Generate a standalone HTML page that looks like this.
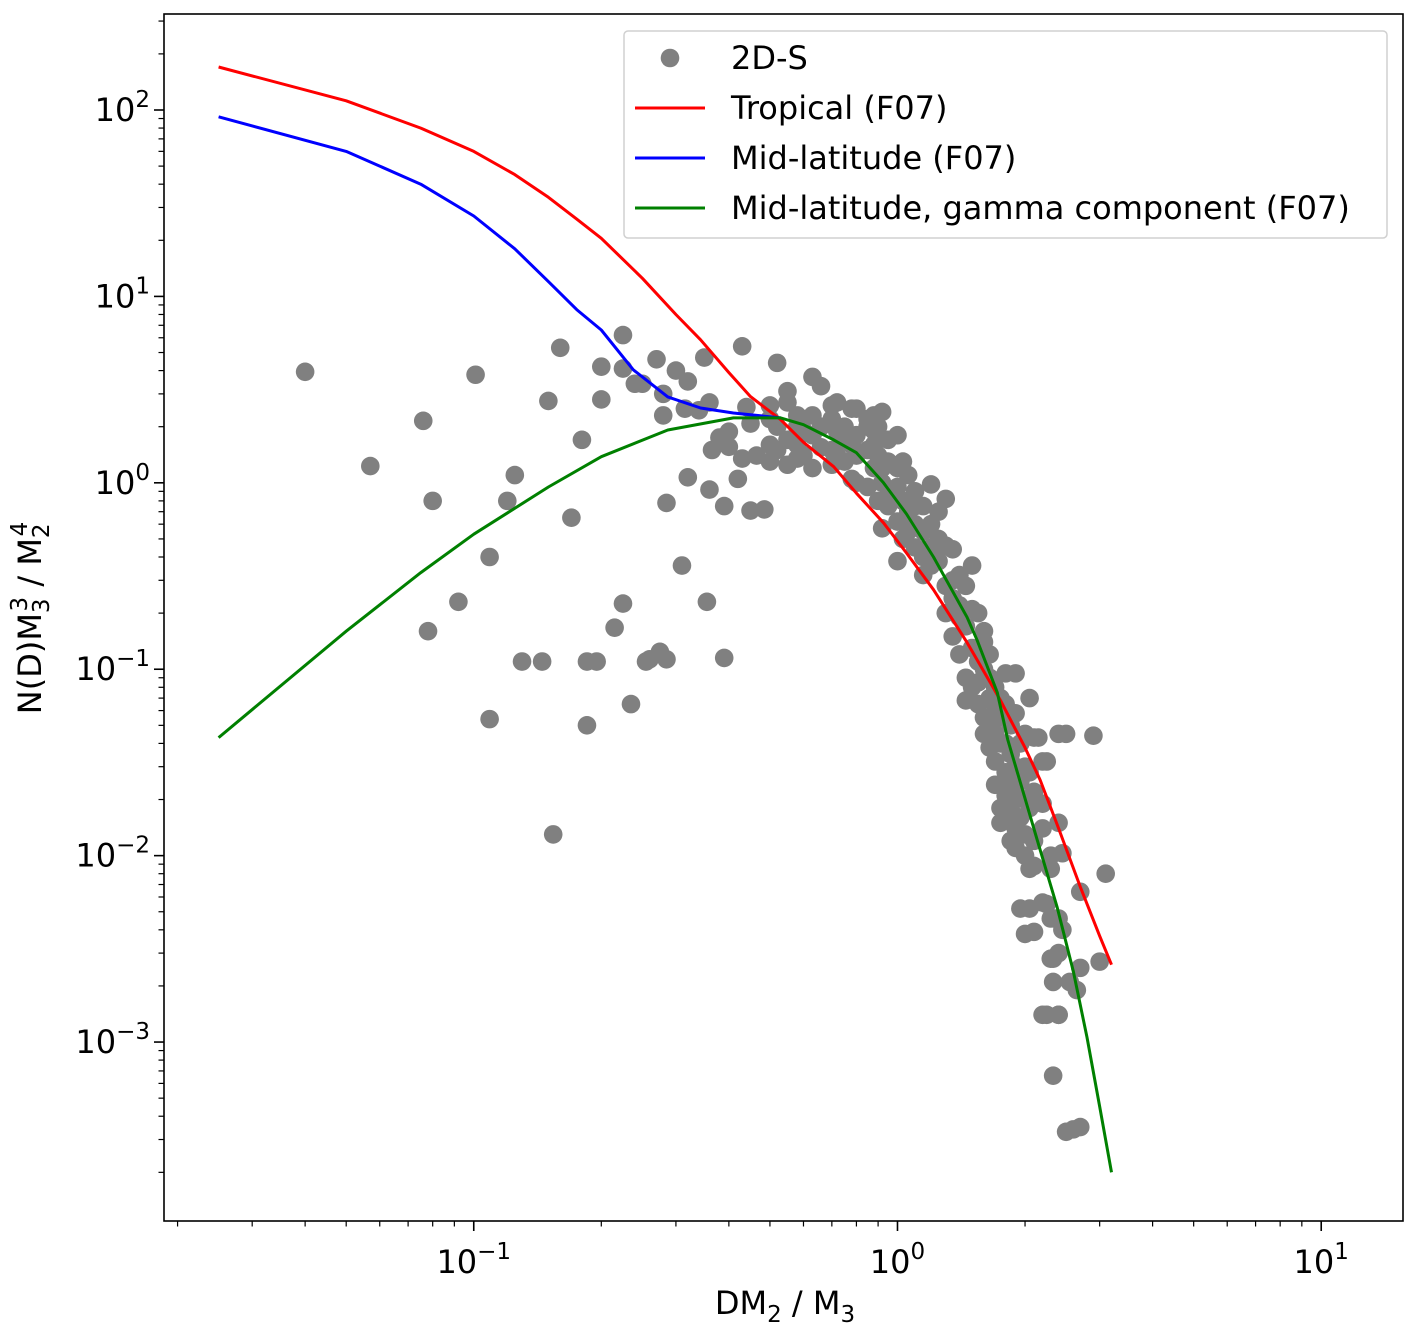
<!DOCTYPE html>
<html><head><meta charset="utf-8"><style>
body{margin:0;background:#fff;}
svg{display:block;font-family:"DejaVu Sans","Liberation Sans",sans-serif;}
</style></head><body>
<svg id="chart" width="1418" height="1331" viewBox="0 0 1418 1331">
<rect width="1418" height="1331" fill="#fff"/>
<g id="marks"></g>
<g id="axes"></g>
</svg>
<script>
// ---- data ----
const tropX=[0.025,0.05,0.075,0.1,0.125,0.15,0.175,0.2,0.25,0.3,0.343,0.4,0.45,0.53,0.6,0.707,0.8,0.927,1.05,1.216,1.46,1.68,1.75,2.0,2.17,2.4,2.7,3.0,3.2];
const tropY=[170,112,80,60,45,34,26,20.5,12.5,8.0,5.85,3.9,2.9,2.18,1.65,1.22,0.88,0.61,0.42,0.267,0.139,0.08,0.068,0.038,0.0255,0.014,0.0068,0.0037,0.0026];
const midX=[0.025,0.05,0.075,0.1,0.125,0.15,0.175,0.2,0.238,0.287,0.343,0.41,0.53];
const midY=[92,60,40,27,18,12,8.5,6.6,4.04,2.89,2.52,2.37,2.23];
const gamX=[0.025,0.05,0.075,0.1,0.15,0.2,0.287,0.41,0.53,0.6,0.707,0.8,0.927,1.05,1.216,1.46,1.54,1.72,1.82,2.14,2.38,2.6,2.8,3.0,3.2];
const gamY=[0.043,0.16,0.33,0.53,0.95,1.38,1.92,2.23,2.23,2.05,1.70,1.45,1.0,0.68,0.40,0.19,0.144,0.075,0.042,0.012,0.0053,0.0024,0.00106,0.00045,0.0002];
const ptsX=[0.040,0.057,0.076,0.080,0.078,0.092,0.101,0.109,0.109,0.12,0.125,0.13,0.15,0.145,0.16,0.154,0.17,0.18,0.185,0.195,0.185,0.20,0.20,0.215,0.225,0.225,0.225,0.235,0.24,0.25,0.255,0.26,0.275,0.27,0.28,0.28,0.285,0.285,0.3,0.31,0.315,0.32,0.32,0.34,0.35,0.355,0.36,0.36,0.365,0.38,0.39,0.39,0.40,0.40,0.42,0.43,0.43,0.44,0.45,0.45,0.465,0.485,
0.5,0.5,0.5,0.5,0.52,0.52,0.52,0.55,0.55,0.55,0.55,0.58,0.58,0.58,0.58,0.6,0.6,0.6,0.63,0.63,0.63,0.63,0.66,0.66,0.66,0.7,0.7,0.7,0.7,0.72,0.72,0.72,0.75,0.75,0.75,0.78,0.78,0.78,0.8,0.8,0.8,0.8,0.85,0.85,0.85,0.85,0.88,0.88,0.88,0.88,0.9,0.9,0.9,0.92,0.92,0.92,0.92,0.95,0.95,0.95,0.95,1.0,1.0,1.0,1.0,1.0,1.03,1.03,1.03,1.06,1.06,1.06,1.1,1.1,1.1,1.1,1.15,1.15,1.15,1.15,1.2,1.2,1.2,1.2,1.25,1.25,1.25,1.3,1.3,1.3,1.3,1.35,1.35,1.35,1.35,1.4,1.4,1.4,1.4,1.45,1.45,1.45,1.45,1.5,1.5,1.5,1.5,1.55,1.55,1.55,1.55,1.6,1.6,1.6,1.6,1.6,1.65,1.65,1.65,1.65,1.65,1.7,1.7,1.7,1.7,1.7,1.75,1.75,1.75,1.75,1.75,1.8,1.8,1.8,1.8,1.8,1.8,1.85,1.85,1.85,1.85,1.85,1.9,1.9,1.9,1.9,1.9,1.9,1.95,1.95,1.95,1.95,2.0,2.0,2.0,2.0,2.0,2.0,2.05,2.05,2.05,2.05,2.05,2.1,2.1,2.1,2.1,2.1,2.2,2.2,2.2,2.2,2.2,2.3,2.3,2.3,2.3,2.4,2.4,2.4,2.4,
2.5,2.9,3.1,2.7,3.0,2.7,2.65,2.55,2.33,2.5,2.6,2.7,2.25,2.4,2.33,2.33,2.4,2.45,2.25,2.35,2.45,2.25,2.15];
const ptsY=[3.94,1.23,2.15,0.80,0.16,0.23,3.8,0.40,0.054,0.8,1.1,0.11,2.75,0.11,5.3,0.013,0.65,1.7,0.11,0.11,0.05,4.2,2.8,0.167,6.2,0.225,4.1,0.065,3.4,3.4,0.11,0.113,0.124,4.6,2.3,3.0,0.78,0.113,4.0,0.36,2.5,3.5,1.07,2.45,4.7,0.23,2.7,0.92,1.5,1.75,0.75,0.115,1.88,1.56,1.05,5.4,1.35,2.55,2.08,0.71,1.4,0.72,
2.2,1.6,2.6,1.3,4.4,2.0,1.5,1.25,3.1,2.7,1.7,1.35,2.3,2.0,1.6,2.2,1.9,1.4,3.7,2.3,1.8,1.2,3.3,2.0,1.55,2.6,2.2,1.5,1.25,2.7,1.9,1.4,2.0,1.7,1.3,1.05,2.5,1.6,2.5,1.8,1.0,1.4,2.0,1.5,2.2,0.95,1.9,1.2,2.3,1.6,1.4,0.8,2.0,2.4,1.2,1.0,0.57,1.7,1.3,0.85,0.75,1.8,1.2,0.95,0.38,0.62,1.3,0.8,0.5,1.1,0.7,0.55,0.9,0.6,0.45,0.75,0.75,0.55,0.32,0.4,0.98,0.6,0.45,0.36,0.5,0.7,0.38,0.82,0.46,0.28,0.2,0.44,0.3,0.24,0.15,0.32,0.22,0.12,0.19,0.28,0.17,0.09,0.068,0.36,0.21,0.13,0.08,0.2,0.11,0.085,0.065,0.16,0.14,0.1,0.055,0.045,0.12,0.09,0.07,0.05,0.038,0.08,0.06,0.045,0.032,0.024,0.07,0.055,0.04,0.018,0.015,0.095,0.065,0.04,0.028,0.021,0.016,0.05,0.035,0.025,0.018,0.012,0.095,0.058,0.03,0.022,0.014,0.011,0.04,0.025,0.016,0.0052,0.045,0.03,0.02,0.013,0.01,0.0038,0.07,0.028,0.018,0.0085,0.0052,0.043,0.022,0.012,0.0088,0.0039,0.032,0.019,0.014,0.0056,0.0014,0.01,0.0085,0.0046,0.0028,0.045,0.015,0.0046,0.0014,
0.045,0.044,0.008,0.0064,0.0027,0.0025,0.0019,0.0021,0.00066,0.00033,0.00034,0.00035,0.0014,0.0014,0.0028,0.0021,0.003,0.004,0.0055,0.0046,0.0103,0.032,0.043];
const xTickVals=[0.1,1,10];
const xTickExp=["\u22121","0","1"];
const yTickVals=[0.001,0.01,0.1,1,10,100];
const yTickExp=["\u22123","\u22122","\u22121","0","1","2"];

// ---- scales ----
const L=164,R=1403,T=14,B=1221;
const xMinL=-1.731,xMaxL=1.193,yMinL=-3.96,yMaxL=2.515;
const sx=v=>L+(Math.log10(v)-xMinL)/(xMaxL-xMinL)*(R-L);
const sy=v=>B-(Math.log10(v)-yMinL)/(yMaxL-yMinL)*(B-T);
const NS="http://www.w3.org/2000/svg";
function mk(tag,attrs,parent){const e=document.createElementNS(NS,tag);for(const k in attrs)e.setAttribute(k,attrs[k]);parent.appendChild(e);return e;}
const marks=document.getElementById('marks'), axes=document.getElementById('axes');

// scatter
for(let i=0;i<ptsX.length;i++){
  const c=mk('circle',{cx:sx(ptsX[i]),cy:sy(ptsY[i]),r:9.3,fill:'#808080'},marks);
  
  
}
function line(xs,ys,color,name){
  const d=xs.map((x,i)=>(i?'L':'M')+sx(x).toFixed(1)+','+sy(ys[i]).toFixed(1)).join(' ');
  const p=mk('path',{d:d,fill:'none',stroke:color,'stroke-width':3,'stroke-linejoin':'round'},marks);
  
  
}
line(tropX,tropY,'#ff0000','tropical-line');
line(midX,midY,'#0000ff','mid-latitude-line');
line(gamX,gamY,'#008000','gamma-component-line');

// frame
const fr=mk('rect',{x:L,y:T,width:R-L,height:B-T,fill:'none',stroke:'#000','stroke-width':1.6},axes);



// x ticks
for(let e=-2;e<=1;e++)for(let m=1;m<10;m++){
  const v=m*Math.pow(10,e);const px=sx(v);
  if(px<L||px>R)continue;
  const len=m===1?10:5.5;
  mk('line',{x1:px,y1:B,x2:px,y2:B+len,stroke:'#000','stroke-width':m===1?1.6:1.2},axes);
}
xTickVals.forEach((v,i)=>{
  const t=mk('text',{x:sx(v),y:B+52,'font-size':32,'text-anchor':'middle'},axes);
  
  
  t.innerHTML='10<tspan dy="-14" font-size="23">'+xTickExp[i]+'</tspan>';
});
// y ticks
for(let e=-4;e<=2;e++)for(let m=1;m<10;m++){
  const v=m*Math.pow(10,e);const py=sy(v);
  if(py<T||py>B)continue;
  const len=m===1?10:5.5;
  mk('line',{x1:L,y1:py,x2:L-len,y2:py,stroke:'#000','stroke-width':m===1?1.6:1.2},axes);
}
yTickVals.forEach((v,i)=>{
  const t=mk('text',{x:L-14,y:sy(v)+11,'font-size':32,'text-anchor':'end'},axes);
  
  
  t.innerHTML='10<tspan dy="-14" font-size="23">'+yTickExp[i]+'</tspan>';
});
// axis titles
const xt=mk('text',{x:785,y:1314,'font-size':32,'text-anchor':'middle'},axes);


xt.innerHTML='DM<tspan dy="8" font-size="23">2</tspan><tspan dy="-8"> / M</tspan><tspan dy="8" font-size="23">3</tspan>';
const yt=mk('text',{x:0,y:0,'font-size':32,'text-anchor':'middle',transform:'translate(41,618) rotate(-90)'},axes);


yt.innerHTML='N(D)M<tspan dy="8" font-size="23">3</tspan><tspan dx="-13" dy="-22" font-size="23">3</tspan><tspan dy="14"> / M</tspan><tspan dy="8" font-size="23">2</tspan><tspan dx="-13" dy="-22" font-size="23">4</tspan>';

// legend
const lg=mk('g',{},axes);


mk('rect',{x:624,y:31,width:763,height:207,rx:4,fill:'#fff','fill-opacity':0.8,stroke:'#d0d0d0','stroke-width':1.5},lg);
const entries=[['2D-S',null],['Tropical (F07)','#ff0000'],['Mid-latitude (F07)','#0000ff'],['Mid-latitude, gamma component (F07)','#008000']];
entries.forEach((en,i)=>{
  const y=58+i*50;
  if(en[1]) mk('line',{x1:635,y1:y,x2:705,y2:y,stroke:en[1],'stroke-width':3},lg);
  else mk('circle',{cx:670,cy:y,r:9.3,fill:'#808080'},lg);
  const t=mk('text',{x:731,y:y+11,'font-size':32},lg);
  t.textContent=en[0];
  
  
});
</script>
</body></html>
